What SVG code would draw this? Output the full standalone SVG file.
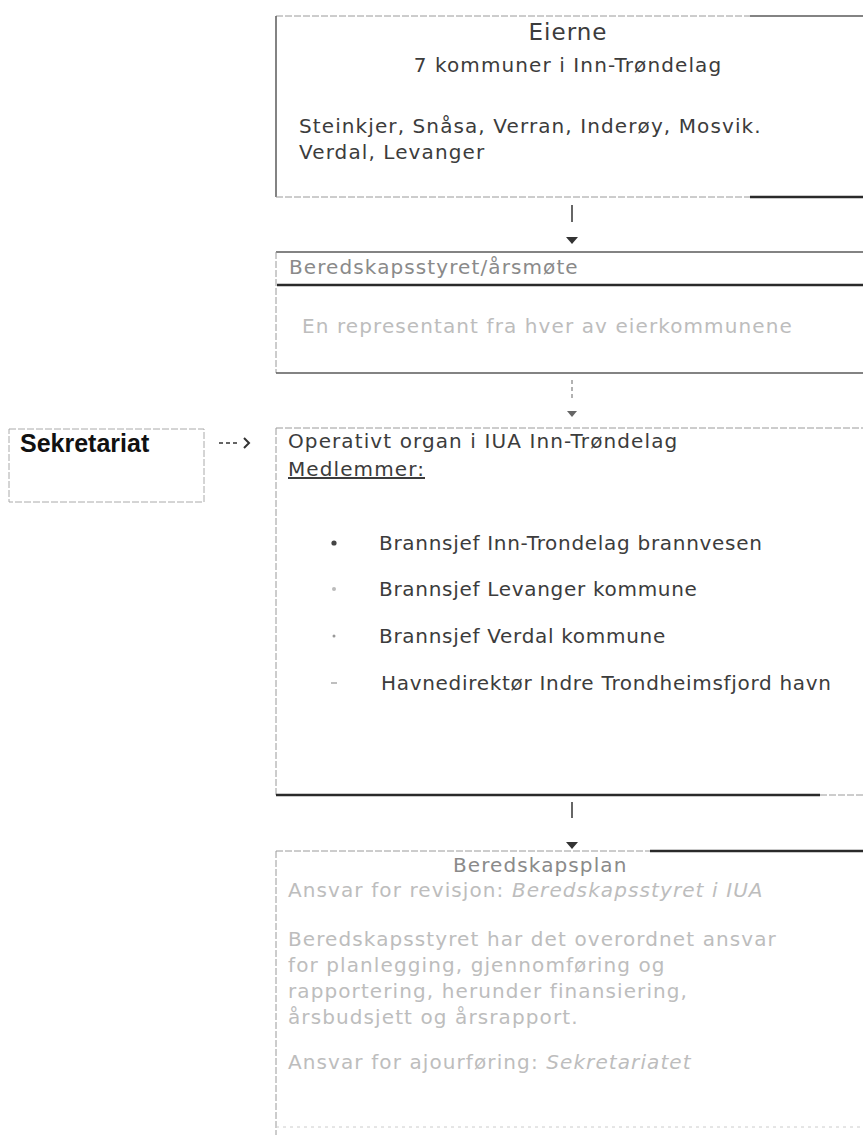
<svg xmlns="http://www.w3.org/2000/svg" width="863" height="1135" viewBox="0 0 863 1135">
<style>
text{font-family:"DejaVu Sans","Liberation Sans",sans-serif;font-size:20px;letter-spacing:1.1px}
.dk{fill:#3c3c3c}
.md{fill:#8a8a8a}
.lt{fill:#bdbdbd}
.li{letter-spacing:0.7px}
.bd{stroke:#5a5a5a;stroke-width:1.5;fill:none}
.fb{stroke:#9a9a9a;stroke-width:1;fill:none;stroke-dasharray:7 2}
.hv{stroke:#2a2a2a;stroke-width:2.5;fill:none}
.con{stroke:#333;stroke-width:1.5;fill:none}
.head{fill:#333}
</style>
<rect width="863" height="1135" fill="#fff"/>

<g id="eierne">
<line x1="276" y1="16" x2="750" y2="16" class="fb"/>
<line x1="750" y1="16" x2="863" y2="16" class="bd"/>
<line x1="276" y1="16" x2="276" y2="197" class="bd"/>
<line x1="276" y1="197" x2="750" y2="197" class="fb"/>
<line x1="750" y1="197" x2="863" y2="197" class="hv"/>
<text x="568" y="40" text-anchor="middle" class="dk" style="font-size:23px;letter-spacing:1px">Eierne</text>
<text x="568" y="72" text-anchor="middle" class="dk">7 kommuner i Inn-Trøndelag</text>
<text x="299" y="133" class="dk">Steinkjer, Snåsa, Verran, Inderøy, Mosvik.</text>
<text x="299" y="159" class="dk">Verdal, Levanger</text>
</g>

<g id="beredskapsstyret">
<line x1="276" y1="252" x2="863" y2="252" class="bd"/>
<line x1="276" y1="252" x2="276" y2="373" class="fb"/>
<line x1="276" y1="373" x2="863" y2="373" class="bd"/>
<line x1="277" y1="285" x2="863" y2="285" class="hv"/>
<text x="289" y="274" class="md">Beredskapsstyret/årsmøte</text>
<text x="302" y="333" class="lt">En representant fra hver av eierkommunene</text>
</g>

<g id="sekretariat">
<rect x="9" y="429" width="195" height="73" class="fb" style="stroke:#aaa"/>
<text x="20" y="452" style="font-family:'Liberation Sans',Arial,sans-serif;font-size:25px;font-weight:bold;letter-spacing:0;fill:#111">Sekretariat</text>
</g>

<g id="operativt">
<line x1="276" y1="428" x2="863" y2="428" class="fb"/>
<line x1="276" y1="428" x2="276" y2="795" class="fb"/>
<line x1="276" y1="795" x2="820" y2="795" class="hv"/>
<line x1="820" y1="795" x2="863" y2="795" class="fb"/>
<text x="288" y="448" class="dk">Operativt organ i IUA Inn-Trøndelag</text>
<text x="288" y="476" class="dk" text-decoration="underline">Medlemmer:</text>
<circle cx="334" cy="543" r="2.6" fill="#444"/>
<circle cx="334" cy="589" r="2" fill="#bbb"/>
<circle cx="334" cy="636" r="1.5" fill="#999"/>
<line x1="331" y1="683" x2="337" y2="683" stroke="#aaa" stroke-width="1.5"/>
<text x="379" y="550" class="dk li">Brannsjef Inn-Trondelag brannvesen</text>
<text x="379" y="596" class="dk li">Brannsjef Levanger kommune</text>
<text x="379" y="643" class="dk li">Brannsjef Verdal kommune</text>
<text x="381" y="690" class="dk li">Havnedirektør Indre Trondheimsfjord havn</text>
</g>

<g id="beredskapsplan">
<line x1="276" y1="851" x2="650" y2="851" class="fb"/>
<line x1="650" y1="851" x2="863" y2="851" class="hv"/>
<line x1="276" y1="851" x2="276" y2="1135" class="fb"/>
<line x1="276" y1="1127" x2="863" y2="1127" stroke="#ccc" stroke-width="1" stroke-dasharray="3 4"/>
<text x="453" y="872" class="md">Beredskapsplan</text>
<text x="288" y="897" class="lt">Ansvar for revisjon: <tspan font-style="italic">Beredskapsstyret i IUA</tspan></text>
<text x="288" y="946" class="lt">Beredskapsstyret har det overordnet ansvar</text>
<text x="288" y="972" class="lt">for planlegging, gjennomføring og</text>
<text x="288" y="998" class="lt">rapportering, herunder finansiering,</text>
<text x="288" y="1024" class="lt">årsbudsjett og årsrapport.</text>
<text x="288" y="1069" class="lt">Ansvar for ajourføring: <tspan font-style="italic">Sekretariatet</tspan></text>
</g>

<g id="connectors">
<line x1="572" y1="205" x2="572" y2="222" class="con"/>
<polygon points="566,237 578,237 572,244" class="head"/>
<line x1="572" y1="380" x2="572" y2="398" class="con" stroke-dasharray="4 3" style="stroke:#999"/>
<polygon points="567,411 577,411 572,417" class="head" style="fill:#666"/>
<line x1="572" y1="802" x2="572" y2="818" class="con"/>
<polygon points="566,842 578,842 572,849" class="head"/>
<line x1="219" y1="443" x2="237" y2="443" class="con" stroke-dasharray="4 3"/>
<path d="M244,438 L249,443 L244,448" class="con" style="stroke-width:2"/>
</g>
</svg>
